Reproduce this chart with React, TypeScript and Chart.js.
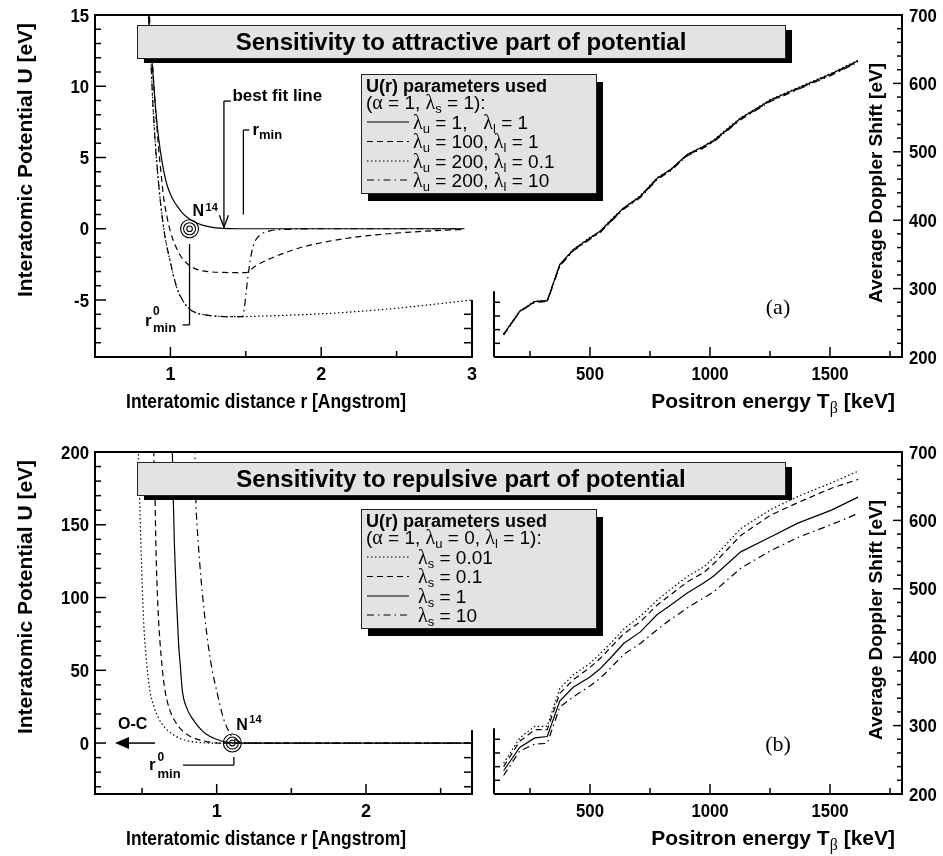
import React, { useEffect, useRef } from 'react';
import { Chart, registerables } from 'chart.js';

Chart.register(...registerables);

const W = 943;
const H = 856;

// ===== (a) left: U(r), sensitivity to attractive part =====
const attR_l1 = [0.85, 0.856, 0.87, 0.882, 0.9, 0.915, 0.933, 0.955, 0.978, 1.01, 1.044, 1.08, 1.122, 1.165, 1.211, 1.27, 1.344, 1.45, 1.7, 2.2, 2.95];
const attU_l1 = [16.5, 15, 12.8, 11.2, 8.7, 7.0, 5.5, 4.1, 3.05, 2.2, 1.6, 1.1, 0.72, 0.45, 0.25, 0.11, 0.03, 0.0, 0.0, 0.0, 0.0];

const attR_u100 = [0.85, 0.862, 0.882, 0.9, 0.922, 0.94, 0.956, 0.978, 1.0, 1.04, 1.078, 1.13, 1.189, 1.26, 1.344, 1.42, 1.5, 1.56, 1.64, 1.756, 1.87, 2.0, 2.15, 2.31, 2.48, 2.645, 2.8, 2.944];
const attU_u100 = [17, 14.8, 11.5, 8.6, 5.6, 3.7, 2.1, 0.8, -0.2, -1.35, -2.07, -2.6, -2.9, -3.02, -3.06, -3.08, -3.08, -2.65, -2.2, -1.7, -1.3, -0.98, -0.7, -0.48, -0.32, -0.2, -0.11, -0.05];

const attR_l01 = [0.848, 0.858, 0.867, 0.882, 0.896, 0.911, 0.927, 0.944, 0.965, 0.989, 1.015, 1.044, 1.08, 1.122, 1.17, 1.233, 1.3, 1.4, 1.478, 1.6, 1.75, 2.0, 2.25, 2.5, 2.75, 3.0];
const attU_l01 = [16, 14.3, 12.66, 9.15, 6.6, 4.47, 2.6, 0.96, -0.6, -1.84, -3.05, -4.18, -5.0, -5.58, -5.9, -6.05, -6.13, -6.17, -6.17, -6.13, -6.08, -5.97, -5.8, -5.58, -5.3, -5.0];

const attR_l10 = [0.848, 0.858, 0.867, 0.882, 0.896, 0.911, 0.927, 0.944, 0.965, 0.989, 1.015, 1.044, 1.08, 1.122, 1.17, 1.233, 1.3, 1.4, 1.478, 1.49, 1.505, 1.52, 1.54, 1.56, 1.6, 1.66, 1.75, 2.0, 2.5, 2.95];
const attU_l10 = [16, 14.3, 12.66, 9.15, 6.6, 4.47, 2.6, 0.96, -0.6, -1.84, -3.05, -4.18, -5.0, -5.58, -5.9, -6.05, -6.13, -6.17, -6.17, -5.6, -4.2, -2.9, -1.6, -0.9, -0.4, -0.15, -0.05, 0, 0, 0];

// ===== right panels: average Doppler shift vs positron energy =====
const energyKeV = [140, 207, 270, 322, 374, 430, 500, 542, 591, 640, 710, 779, 835, 905, 975, 1017, 1128, 1254, 1366, 1506, 1617];

const dopA_l1 = [233, 267, 281, 282, 335, 357, 374, 384, 401, 418, 435, 461, 474, 496, 508, 517, 549, 576, 593, 614, 633];
const dopA_u100 = [233, 266, 281, 282, 334, 356, 373, 383, 400, 417, 434, 460, 473, 495, 507, 516, 548, 575, 592, 613, 632];
const dopA_l01 = [234, 267, 282, 283, 335, 357, 375, 384, 402, 418, 436, 462, 474, 496, 509, 518, 550, 577, 594, 615, 634];
const dopA_l10 = [232, 266, 280, 281, 333, 355, 372, 382, 399, 416, 433, 459, 472, 494, 506, 515, 547, 574, 591, 612, 631];

const dopB_s001 = [245, 282, 299, 299, 354, 374, 391, 405, 422, 441, 460, 483, 499, 518, 532, 546, 588, 616, 635, 655, 672];
const dopB_s01 = [240, 277, 294, 294, 347, 367, 385, 398, 416, 434, 452, 476, 491, 510, 524, 537, 578, 608, 626, 647, 660];
const dopB_s1 = [234, 268, 282, 284, 336, 356, 371, 383, 401, 420, 437, 462, 476, 494, 509, 519, 554, 576, 596, 615, 634];
const dopB_s10 = [227, 263, 273, 274, 327, 342, 358, 369, 386, 404, 420, 440, 455, 472, 487, 496, 530, 556, 575, 594, 610];

// ===== (b) left: U(r), sensitivity to repulsive part =====
const repR_s001 = [0.468, 0.475, 0.486, 0.498, 0.51, 0.525, 0.553, 0.58, 0.609, 0.65, 0.699, 0.76, 0.833, 0.9, 0.967, 1.2, 2.71];
const repU_s001 = [215, 199, 160, 118, 85, 62, 36, 25, 17.5, 11, 6.5, 3, 1.0, 0.3, 0, 0, 0];
const repR_s01 = [0.575, 0.58, 0.587, 0.592, 0.598, 0.608, 0.62, 0.635, 0.654, 0.685, 0.721, 0.77, 0.833, 0.9, 0.944, 1.02, 2.71];
const repU_s01 = [215, 195, 169, 140, 116, 90, 70, 52, 36, 23, 15, 8.5, 4, 1.8, 0.8, 0, 0];
const repR_s1 = [0.698, 0.703, 0.71, 0.717, 0.73, 0.745, 0.755, 0.77, 0.8, 0.833, 0.9, 0.95, 0.989, 1.056, 1.11, 1.2, 2.71];
const repU_s1 = [215, 200, 165, 136, 100, 68, 55, 36, 24, 17.5, 8.7, 4.8, 3.0, 0.8, 0.1, 0, 0];
const repR_s10 = [0.848, 0.853, 0.86, 0.875, 0.895, 0.92, 0.945, 0.97, 1.0, 1.045, 1.078, 1.11, 1.16, 1.25, 2.71];
const repU_s10 = [215, 200, 168, 140, 113, 87, 66, 50, 36, 17, 8.7, 3.5, 0.8, 0, 0];

// ===== ticks =====
const attYTicks = [-5, 0, 5, 10, 15];
const attXTicks = [1, 2, 3];
const repYTicks = [0, 50, 100, 150, 200];
const repXTicks = [1, 2];
const dopYTicks = [200, 300, 400, 500, 600, 700];
const energyTicks = [500, 1000, 1500];

// ===== styles =====
const SANS = '"Liberation Sans", Arial, Helvetica, sans-serif';
const SERIF = '"Liberation Serif", "Times New Roman", serif';
const fb = (s: number) => `bold ${s}px ${SANS}`;
const fn = (s: number) => `${s}px ${SANS}`;
const fs = (s: number) => `${s}px ${SERIF}`;

const DASH_SOLID: number[] = [];
const DASH_DASHED = [6, 4];
const DASH_DOTTED = [1.5, 2.5];
const DASH_DASHDOT = [7, 4, 1.5, 4];

const AREA_TL = { l: 95, r: 472, t: 15, b: 357 };
const AREA_TR = { l: 494, r: 902, t: 15, b: 357 };
const AREA_BL = { l: 95, r: 472, t: 452, b: 794 };
const AREA_BR = { l: 494, r: 902, t: 452, b: 794 };

type Run = { t: string; font: string; dy?: number };

function runs(ctx: CanvasRenderingContext2D, x: number, y: number, rs: Run[], align: 'left' | 'center' | 'right' = 'left', sx = 1) {
  let w = 0;
  rs.forEach((r) => { ctx.font = r.font; w += ctx.measureText(r.t).width; });
  w *= sx;
  const startX = align === 'left' ? x : align === 'center' ? x - w / 2 : x - w;
  ctx.save();
  ctx.translate(startX, y);
  ctx.scale(sx, 1);
  ctx.textAlign = 'left';
  ctx.textBaseline = 'alphabetic';
  let cx = 0;
  rs.forEach((r) => {
    ctx.font = r.font;
    ctx.fillText(r.t, cx, r.dy || 0);
    cx += ctx.measureText(r.t).width;
  });
  ctx.restore();
}

function seg(ctx: CanvasRenderingContext2D, x1: number, y1: number, x2: number, y2: number) {
  ctx.beginPath();
  ctx.moveTo(x1, y1);
  ctx.lineTo(x2, y2);
  ctx.stroke();
}

function rangeVals(a: number, b: number, s: number) {
  const out: number[] = [];
  for (let v = a; v <= b + 1e-9; v += s) out.push(Math.round(v * 1000) / 1000);
  return out;
}

function shadowBox(ctx: CanvasRenderingContext2D, x: number, y: number, w: number, h: number, dx: number, dy: number) {
  ctx.fillStyle = '#000';
  ctx.fillRect(x + dx, y + dy, w, h);
  ctx.fillStyle = '#e3e3e3';
  ctx.fillRect(x, y, w, h);
  ctx.strokeStyle = '#222';
  ctx.lineWidth = 1;
  ctx.strokeRect(x + 0.5, y + 0.5, w, h);
  ctx.fillStyle = '#000';
  ctx.strokeStyle = '#000';
}

function marker(ctx: CanvasRenderingContext2D, cx: number, cy: number) {
  ctx.lineWidth = 1.1;
  [9, 6, 2.8].forEach((r) => {
    ctx.beginPath();
    ctx.arc(cx, cy, r, 0, Math.PI * 2);
    ctx.stroke();
  });
}

const lam = (sub: string): Run[] => [
  { t: 'λ', font: fs(20) },
  { t: sub, font: fn(13), dy: 4 },
];
const T = (t: string): Run => ({ t, font: fn(19) });

function legendBox(ctx: CanvasRenderingContext2D, top: number, second: Run[], rows: { dash: number[]; r: Run[] }[], textX: number) {
  const x = 361, w = 235, h = 119;
  shadowBox(ctx, x, top, w, h, 7, 8);
  ctx.fillStyle = '#000';
  runs(ctx, 366, top + 17.5, [{ t: 'U(r) parameters used', font: fb(18) }]);
  runs(ctx, 366, top + 34.5, second);
  const rowC = [48, 67.5, 87, 106];
  rows.forEach((row, i) => {
    const cy = top + rowC[i];
    ctx.lineWidth = 1.1;
    ctx.setLineDash(row.dash);
    seg(ctx, 367, cy, 409, cy);
    ctx.setLineDash([]);
    runs(ctx, textX, cy + 6.5, row.r);
  });
}

function titleBox(ctx: CanvasRenderingContext2D, top: number, text: string) {
  shadowBox(ctx, 137, top + 10, 648, 33, 7, 5);
  ctx.fillStyle = '#000';
  runs(ctx, 461, top + 35, [{ t: text, font: fb(24) }], 'center');
}

function leftYTitle(ctx: CanvasRenderingContext2D, cy: number) {
  ctx.save();
  ctx.translate(26, cy);
  ctx.rotate(-Math.PI / 2);
  ctx.font = fb(21);
  ctx.textAlign = 'center';
  ctx.textBaseline = 'middle';
  ctx.fillText('Interatomic Potential U [eV]', 0, 0);
  ctx.restore();
}

function rightYTitle(ctx: CanvasRenderingContext2D, cy: number) {
  ctx.save();
  ctx.translate(877, cy);
  ctx.rotate(-Math.PI / 2);
  ctx.font = fb(19);
  ctx.textAlign = 'center';
  ctx.textBaseline = 'middle';
  ctx.fillText('Average Doppler Shift [eV]', 0, 0);
  ctx.restore();
}

function leftDecor(chart: any, opts: {
  yTicks: number[]; yMinor: number[]; xTicks: number[]; xMinor: number[];
  rightFrom: number; rightMinor: number[]; title: string;
}) {
  const { ctx, chartArea: a, scales } = chart;
  const xs = scales.x, ys = scales.y;
  ctx.save();
  ctx.strokeStyle = '#000';
  ctx.fillStyle = '#000';
  ctx.setLineDash([]);
  ctx.lineWidth = 2;
  seg(ctx, a.left, a.top, a.left, a.bottom);
  seg(ctx, a.left - 1, a.bottom, a.right + 1, a.bottom);
  seg(ctx, a.left - 1, a.top, 903, a.top);
  seg(ctx, a.right, ys.getPixelForValue(opts.rightFrom), a.right, a.bottom);
  ctx.lineWidth = 1.5;
  opts.yTicks.forEach((v) => { const y = ys.getPixelForValue(v); seg(ctx, a.left, y, a.left + 11, y); });
  opts.yMinor.forEach((v) => { const y = ys.getPixelForValue(v); seg(ctx, a.left, y, a.left + 6, y); });
  opts.rightMinor.forEach((v) => { const y = ys.getPixelForValue(v); seg(ctx, a.right, y, a.right - 8, y); });
  opts.xTicks.forEach((v) => { const x = xs.getPixelForValue(v); seg(ctx, x, a.bottom, x, a.bottom - 10); });
  opts.xMinor.forEach((v) => { const x = xs.getPixelForValue(v); seg(ctx, x, a.bottom, x, a.bottom - 6); });
  opts.yTicks.forEach((v) => {
    runs(ctx, a.left - 6, ys.getPixelForValue(v) + 6.5, [{ t: String(v), font: fb(18) }], 'right', 0.93);
  });
  opts.xTicks.forEach((v) => {
    runs(ctx, xs.getPixelForValue(v), a.bottom + 22.5, [{ t: String(v), font: fb(18) }], 'center');
  });
  leftYTitle(ctx, a.top + 145);
  runs(ctx, 266, a.bottom + 51, [{ t: 'Interatomic distance r [Angstrom]', font: fb(21) }], 'center', 0.83);
  titleBox(ctx, a.top, opts.title);
  ctx.restore();
}

function rightDecor(chart: any, label: string) {
  const { ctx, chartArea: a, scales } = chart;
  const xs = scales.x, ys = scales.y;
  ctx.save();
  ctx.strokeStyle = '#000';
  ctx.fillStyle = '#000';
  ctx.setLineDash([]);
  ctx.lineWidth = 2;
  seg(ctx, a.right, a.top - 1, a.right, a.bottom + 1);
  seg(ctx, a.left, a.bottom, a.right, a.bottom);
  seg(ctx, a.left, a.top, a.right, a.top);
  seg(ctx, a.left, ys.getPixelForValue(296), a.left, a.bottom);
  ctx.lineWidth = 1.5;
  dopYTicks.forEach((v) => { const y = ys.getPixelForValue(v); seg(ctx, a.right, y, a.right - 9, y); });
  rangeVals(220, 680, 20).filter((v) => v % 100 !== 0).forEach((v) => {
    const y = ys.getPixelForValue(v); seg(ctx, a.right, y, a.right - 5, y);
  });
  [220, 240, 260, 280].forEach((v) => { const y = ys.getPixelForValue(v); seg(ctx, a.left, y, a.left + 6, y); });
  energyTicks.forEach((v) => { const x = xs.getPixelForValue(v); seg(ctx, x, a.bottom, x, a.bottom - 10); });
  [250, 750, 1250, 1750].forEach((v) => { const x = xs.getPixelForValue(v); seg(ctx, x, a.bottom, x, a.bottom - 6); });
  dopYTicks.forEach((v) => {
    runs(ctx, a.right + 7, ys.getPixelForValue(v) + 6.5, [{ t: String(v), font: fb(18) }], 'left', 0.93);
  });
  energyTicks.forEach((v) => {
    runs(ctx, xs.getPixelForValue(v), a.bottom + 22.5, [{ t: String(v), font: fb(18) }], 'center', 0.93);
  });
  rightYTitle(ctx, a.top + 168);
  runs(ctx, 895, a.bottom + 51, [
    { t: 'Positron energy T', font: fb(21) },
    { t: 'β', font: fs(16), dy: 5 },
    { t: ' [keV]', font: fb(21) },
  ], 'right');
  runs(ctx, 778, a.top + 299, [{ t: label, font: fs(22) }], 'center');
  ctx.restore();
}

const decorTL = {
  id: 'decorTL',
  afterDraw(chart: any) {
    leftDecor(chart, {
      yTicks: attYTicks,
      yMinor: rangeVals(-8, 14, 1).filter((v) => v % 5 !== 0),
      xTicks: attXTicks,
      xMinor: [1.5, 2.5],
      rightFrom: -5,
      rightMinor: [-6, -7, -8],
      title: 'Sensitivity to attractive part of potential',
    });
    const { ctx, scales } = chart;
    const xs = scales.x, ys = scales.y;
    ctx.save();
    ctx.strokeStyle = '#000';
    ctx.fillStyle = '#000';
    const mx = xs.getPixelForValue(1.127), my = ys.getPixelForValue(0);
    marker(ctx, mx, my);
    runs(ctx, mx + 3, my - 12.3, [{ t: 'N', font: fb(16) }]);
    runs(ctx, mx + 16, my - 18, [{ t: '14', font: fb(11) }]);
    // best fit line arrow
    ctx.lineWidth = 1.3;
    const bx = xs.getPixelForValue(1.355);
    const by0 = ys.getPixelForValue(8.96), by1 = ys.getPixelForValue(0.1);
    seg(ctx, bx, by0, bx + 7, by0);
    seg(ctx, bx, by0, bx, by1);
    ctx.beginPath();
    ctx.moveTo(bx - 4.5, by1 - 12);
    ctx.lineTo(bx, by1);
    ctx.lineTo(bx + 4.5, by1 - 12);
    ctx.stroke();
    runs(ctx, bx + 8.5, by0, [{ t: 'best fit line', font: fb(17) }]);
    // r_min
    const rx = xs.getPixelForValue(1.484);
    const ry0 = ys.getPixelForValue(6.93), ry1 = ys.getPixelForValue(1.0);
    seg(ctx, rx, ry0, rx + 6, ry0);
    seg(ctx, rx, ry0, rx, ry1);
    runs(ctx, rx + 9, ry0 + 5, [{ t: 'r', font: fb(17) }, { t: 'min', font: fb(13), dy: 4 }]);
    // r0_min
    const zy0 = ys.getPixelForValue(-1.07), zy1 = ys.getPixelForValue(-6.75);
    seg(ctx, mx, zy0, mx, zy1);
    seg(ctx, mx - 7, zy1, mx, zy1);
    runs(ctx, 145, zy1 + 1, [{ t: 'r', font: fb(17) }]);
    runs(ctx, 153, zy1 - 10, [{ t: '0', font: fb(12) }]);
    runs(ctx, 153, zy1 + 7, [{ t: 'min', font: fb(13) }]);
    // legend
    legendBox(ctx, 74,
      [T('('), { t: 'α', font: fs(20) }, T(' = 1, '), ...lam('s'), T(' = 1):')],
      [
        { dash: DASH_SOLID, r: [...lam('u'), T(' = 1,   '), ...lam('l'), T(' = 1')] },
        { dash: DASH_DASHED, r: [...lam('u'), T(' = 100, '), ...lam('l'), T(' = 1')] },
        { dash: DASH_DOTTED, r: [...lam('u'), T(' = 200, '), ...lam('l'), T(' = 0.1')] },
        { dash: DASH_DASHDOT, r: [...lam('u'), T(' = 200, '), ...lam('l'), T(' = 10')] },
      ], 413);
    ctx.restore();
  },
};

const decorBL = {
  id: 'decorBL',
  afterDraw(chart: any) {
    leftDecor(chart, {
      yTicks: repYTicks,
      yMinor: rangeVals(-30, 190, 10).filter((v) => v % 50 !== 0),
      xTicks: repXTicks,
      xMinor: [0.5, 1.5, 2.5],
      rightFrom: 9,
      rightMinor: [-10, -20, -30],
      title: 'Sensitivity to repulsive part of potential',
    });
    const { ctx, scales } = chart;
    const xs = scales.x, ys = scales.y;
    ctx.save();
    ctx.strokeStyle = '#000';
    ctx.fillStyle = '#000';
    const mx = xs.getPixelForValue(1.105), my = ys.getPixelForValue(0);
    marker(ctx, mx, my);
    runs(ctx, mx + 4, my - 13, [{ t: 'N', font: fb(16) }]);
    runs(ctx, mx + 17, my - 20, [{ t: '14', font: fb(11) }]);
    // O-C arrow
    ctx.lineWidth = 1.5;
    seg(ctx, 126, my, 155, my);
    ctx.beginPath();
    ctx.moveTo(115, my);
    ctx.lineTo(129, my - 6);
    ctx.lineTo(129, my + 6);
    ctx.closePath();
    ctx.fill();
    runs(ctx, 118, my - 14, [{ t: 'O-C', font: fb(16) }]);
    // r0_min
    ctx.lineWidth = 1.3;
    seg(ctx, 183, my + 22, mx + 1.5, my + 22);
    seg(ctx, mx + 1.5, my + 14, mx + 1.5, my + 22);
    runs(ctx, 149, my + 27, [{ t: 'r', font: fb(17) }]);
    runs(ctx, 157.5, my + 18, [{ t: '0', font: fb(12) }]);
    runs(ctx, 157.5, my + 35, [{ t: 'min', font: fb(13) }]);
    legendBox(ctx, 509,
      [T('('), { t: 'α', font: fs(20) }, T(' = 1, '), ...lam('u'), T(' = 0, '), ...lam('l'), T(' = 1):')],
      [
        { dash: DASH_DOTTED, r: [...lam('s'), T(' = 0.01')] },
        { dash: DASH_DASHED, r: [...lam('s'), T(' = 0.1')] },
        { dash: DASH_SOLID, r: [...lam('s'), T(' = 1')] },
        { dash: DASH_DASHDOT, r: [...lam('s'), T(' = 10')] },
      ], 418);
    ctx.restore();
  },
};

const decorTR = { id: 'decorTR', afterDraw(chart: any) { rightDecor(chart, '(a)'); } };
const decorBR = { id: 'decorBR', afterDraw(chart: any) { rightDecor(chart, '(b)'); } };

function ds(xs: number[], ys: number[], dash: number[], smooth: boolean, width = 1.2) {
  return {
    data: xs.map((x, i) => ({ x, y: ys[i] })),
    borderColor: '#000',
    borderWidth: width,
    borderDash: dash,
    pointRadius: 0,
    fill: false,
    tension: 0,
    cubicInterpolationMode: smooth ? 'monotone' : 'default',
  };
}

function makeConfig(datasets: any[], xr: [number, number], yr: [number, number], area: { l: number; r: number; t: number; b: number }, plugin: any) {
  return {
    type: 'line',
    data: { datasets },
    options: {
      responsive: false,
      animation: false,
      devicePixelRatio: 1,
      events: [],
      layout: { padding: { left: area.l, top: area.t, right: W - area.r, bottom: H - area.b } },
      scales: {
        x: { type: 'linear', display: false, min: xr[0], max: xr[1] },
        y: { type: 'linear', display: false, min: yr[0], max: yr[1] },
      },
      plugins: { legend: { display: false }, tooltip: { enabled: false }, title: { display: false } },
    },
    plugins: [plugin],
  };
}

const cfgTL = () => makeConfig([
  ds(attR_l1, attU_l1, DASH_SOLID, true),
  ds(attR_u100, attU_u100, DASH_DASHED, true),
  ds(attR_l01, attU_l01, DASH_DOTTED, true),
  ds(attR_l10, attU_l10, DASH_DASHDOT, true),
], [0.5, 3], [-9, 15], AREA_TL, decorTL);

const cfgTR = () => makeConfig([
  ds(energyKeV, dopA_l1, DASH_SOLID, false),
  ds(energyKeV, dopA_u100, DASH_DASHED, false),
  ds(energyKeV, dopA_l01, DASH_DOTTED, false),
  ds(energyKeV, dopA_l10, DASH_DASHDOT, false),
], [100, 1800], [200, 700], AREA_TR, decorTR);

const cfgBL = () => makeConfig([
  ds(repR_s001, repU_s001, DASH_DOTTED, true),
  ds(repR_s01, repU_s01, DASH_DASHED, true),
  ds(repR_s1, repU_s1, DASH_SOLID, true),
  ds(repR_s10, repU_s10, DASH_DASHDOT, true),
], [0.185, 2.71], [-35, 200], AREA_BL, decorBL);

const cfgBR = () => makeConfig([
  ds(energyKeV, dopB_s001, DASH_DOTTED, false),
  ds(energyKeV, dopB_s01, DASH_DASHED, false),
  ds(energyKeV, dopB_s1, DASH_SOLID, false),
  ds(energyKeV, dopB_s10, DASH_DASHDOT, false),
], [100, 1800], [200, 700], AREA_BR, decorBR);

function ChartCanvas({ make, z }: { make: () => any; z: number }) {
  const ref = useRef<HTMLCanvasElement>(null);
  useEffect(() => {
    const chart = new Chart(ref.current as HTMLCanvasElement, make());
    return () => chart.destroy();
  }, []);
  return (
    <canvas
      ref={ref}
      width={W}
      height={H}
      style={{ position: 'absolute', left: 0, top: 0, width: W, height: H, zIndex: z }}
    />
  );
}

export default function App() {
  return (
    <div style={{ position: 'absolute', left: 0, top: 0, width: W, height: H, background: '#fff', overflow: 'hidden' }}>
      <ChartCanvas make={cfgTR} z={1} />
      <ChartCanvas make={cfgTL} z={2} />
      <ChartCanvas make={cfgBR} z={3} />
      <ChartCanvas make={cfgBL} z={4} />
    </div>
  );
}
